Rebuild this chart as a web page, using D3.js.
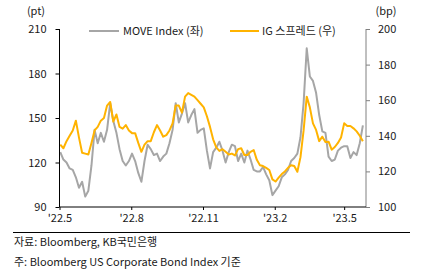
<!DOCTYPE html>
<html><head><meta charset="utf-8">
<script src="https://cdn.jsdelivr.net/npm/d3@7"></script>
<style>
body{margin:0;background:#fff;}
text{font-family:"Noto Sans CJK KR","Noto Sans",sans-serif;font-size:11px;fill:#1a1a1a;}
</style></head><body>
<svg id="c" width="421" height="275"></svg>
<script>
const dates = ["2022-05-02","2022-05-06","2022-05-10","2022-05-14","2022-05-18","2022-05-22","2022-05-26","2022-05-30",
"2022-06-03","2022-06-07","2022-06-11","2022-06-15","2022-06-19","2022-06-23","2022-06-27",
"2022-07-01","2022-07-05","2022-07-09","2022-07-13","2022-07-17","2022-07-21","2022-07-25","2022-07-29",
"2022-08-02","2022-08-06","2022-08-10","2022-08-14","2022-08-18","2022-08-22","2022-08-26","2022-08-30",
"2022-09-03","2022-09-07","2022-09-11","2022-09-15","2022-09-19","2022-09-23","2022-09-27",
"2022-10-01","2022-10-05","2022-10-09","2022-10-13","2022-10-17","2022-10-21","2022-10-25","2022-10-29",
"2022-11-02","2022-11-06","2022-11-10","2022-11-14","2022-11-18","2022-11-22","2022-11-26","2022-11-30",
"2022-12-04","2022-12-08","2022-12-12","2022-12-16","2022-12-20","2022-12-24","2022-12-28",
"2023-01-01","2023-01-05","2023-01-09","2023-01-13","2023-01-17","2023-01-21","2023-01-25","2023-01-29",
"2023-02-02","2023-02-06","2023-02-10","2023-02-14","2023-02-18","2023-02-22","2023-02-26",
"2023-03-02","2023-03-06","2023-03-10","2023-03-14","2023-03-18","2023-03-22","2023-03-26","2023-03-30",
"2023-04-03","2023-04-07","2023-04-11","2023-04-15","2023-04-19","2023-04-23","2023-04-27",
"2023-05-01","2023-05-05","2023-05-09","2023-05-13","2023-05-17","2023-05-21","2023-05-25"];

const moveIndex = [127,122,120,116,115,110,103,107,97,101,118,142,133,140,134,142,160,148,140,129,121,118,121,126,121,113,107,121,132,129,125,126,121,124,126,133,142,160,147,153,160,147,152,156,140,142,143,128,116,127,130,134,128,120,127,132,131,121,126,120,128,122,115,114,114,117,112,108,98,101,104,110,112,115,121,123,126,137,160,197,178,175,167,152,141,140,124,121,122,128,130,131,131,123,127,125,133,145];

const igSpread = [135,133,137,140,143,148.5,139,130.5,130,129.5,136,143,145,148.5,150,157,159,148,152,145,144,146,143,141.5,141.5,136,131,135,137,137,142,146,143,139.5,140.4,143,147,157,157,153,162,164,163,162,160,158,156,151,145,138,133.5,131.5,132.5,131,129.5,130,129,132.5,133,129.2,129.2,131,132,126.5,123.5,123,122,120.8,115.5,114.3,116.5,118.5,120,122,123.5,123,119.8,128,143,162,156,147,143.3,137,139.5,136.5,136.7,132.2,133.7,136,139,147,145.5,145.5,144.2,142.5,140,137];

const leftTicks = [90,120,150,180,210];
const rightTicks = [100,120,140,160,180,200];
const xTickDates = ["2022-05-01","2022-08-01","2022-11-01","2023-02-01","2023-05-01"];
const xTickLabels = ["'22.5","'22.8","'22.11","'23.2","'23.5"];
const seriesNames = ["MOVE Index (좌)","IG 스프레드 (우)"];

const parse = d3.timeParse("%Y-%m-%d");
const svg = d3.select("#c");
const L = 59.5, R = 366, T = 29, B = 207;

const x = d3.scaleTime().domain([parse("2022-05-01"), parse("2023-05-29")]).range([L, R]);
const yL = d3.scaleLinear().domain([90,210]).range([B, T]);
const yR = d3.scaleLinear().domain([100,200]).range([B, T]);

const grayC = "#a6a6a6", orangeC = "#ffb300";

// lines
const lineL = d3.line().x((d,i)=>x(parse(dates[i]))).y(d=>yL(d));
const lineR = d3.line().x((d,i)=>x(parse(dates[i]))).y(d=>yR(d));
svg.append("path").attr("d", lineL(moveIndex)).attr("fill","none").attr("stroke",grayC).attr("stroke-width",2).attr("stroke-linejoin","round");
svg.append("path").attr("d", lineR(igSpread)).attr("fill","none").attr("stroke",orangeC).attr("stroke-width",2).attr("stroke-linejoin","round");

// left axis
const gL = svg.append("g").attr("transform",`translate(${L},0)`)
  .call(d3.axisLeft(yL).tickValues(leftTicks).tickSize(4).tickPadding(9));
gL.select(".domain").attr("stroke","#000").attr("d",`M-0,${T}V${B}`);
gL.selectAll(".tick line").attr("stroke","#000");
gL.selectAll("text").style("font-size","11px").attr("fill","#1a1a1a");

// right axis
const gR = svg.append("g").attr("transform",`translate(${R},0)`)
  .call(d3.axisRight(yR).tickValues(rightTicks).tickSize(4).tickPadding(8));
gR.select(".domain").attr("stroke","#808080").attr("d",`M0,${T}V${B}`);
gR.selectAll(".tick line").attr("stroke","#808080");
gR.selectAll("text").style("font-size","11px").attr("fill","#1a1a1a");

// bottom axis
const gB = svg.append("g").attr("transform",`translate(0,${B})`)
  .call(d3.axisBottom(x).tickValues(xTickDates.map(parse)).tickFormat((d,i)=>xTickLabels[i]).tickSize(3).tickPadding(4));
gB.select(".domain").attr("stroke","#000").attr("d",`M${L},0H${R}`);
gB.selectAll(".tick line").attr("stroke","#000");
gB.selectAll("text").style("font-size","11px").attr("fill","#1a1a1a");

// unit labels
svg.append("text").attr("x",36).attr("y",15).attr("text-anchor","middle").text("(pt)");
svg.append("text").attr("x",386).attr("y",15).attr("text-anchor","middle").text("(bp)");

// legend
svg.append("line").attr("x1",89).attr("x2",119).attr("y1",31).attr("y2",31).attr("stroke",grayC).attr("stroke-width",2);
svg.append("text").attr("x",123).attr("y",35).text(seriesNames[0]);
svg.append("line").attr("x1",230).attr("x2",259).attr("y1",31).attr("y2",31).attr("stroke",orangeC).attr("stroke-width",2);
svg.append("text").attr("x",262).attr("y",35).text(seriesNames[1]);

// separator and notes
svg.append("line").attr("x1",13).attr("x2",410).attr("y1",232.5).attr("y2",232.5).attr("stroke","#000").attr("stroke-width",1);
svg.append("text").attr("x",14).attr("y",246).text("자료: Bloomberg, KB국민은행");
svg.append("text").attr("x",14).attr("y",266).text("주: Bloomberg US Corporate Bond Index 기준");
</script></body></html>
